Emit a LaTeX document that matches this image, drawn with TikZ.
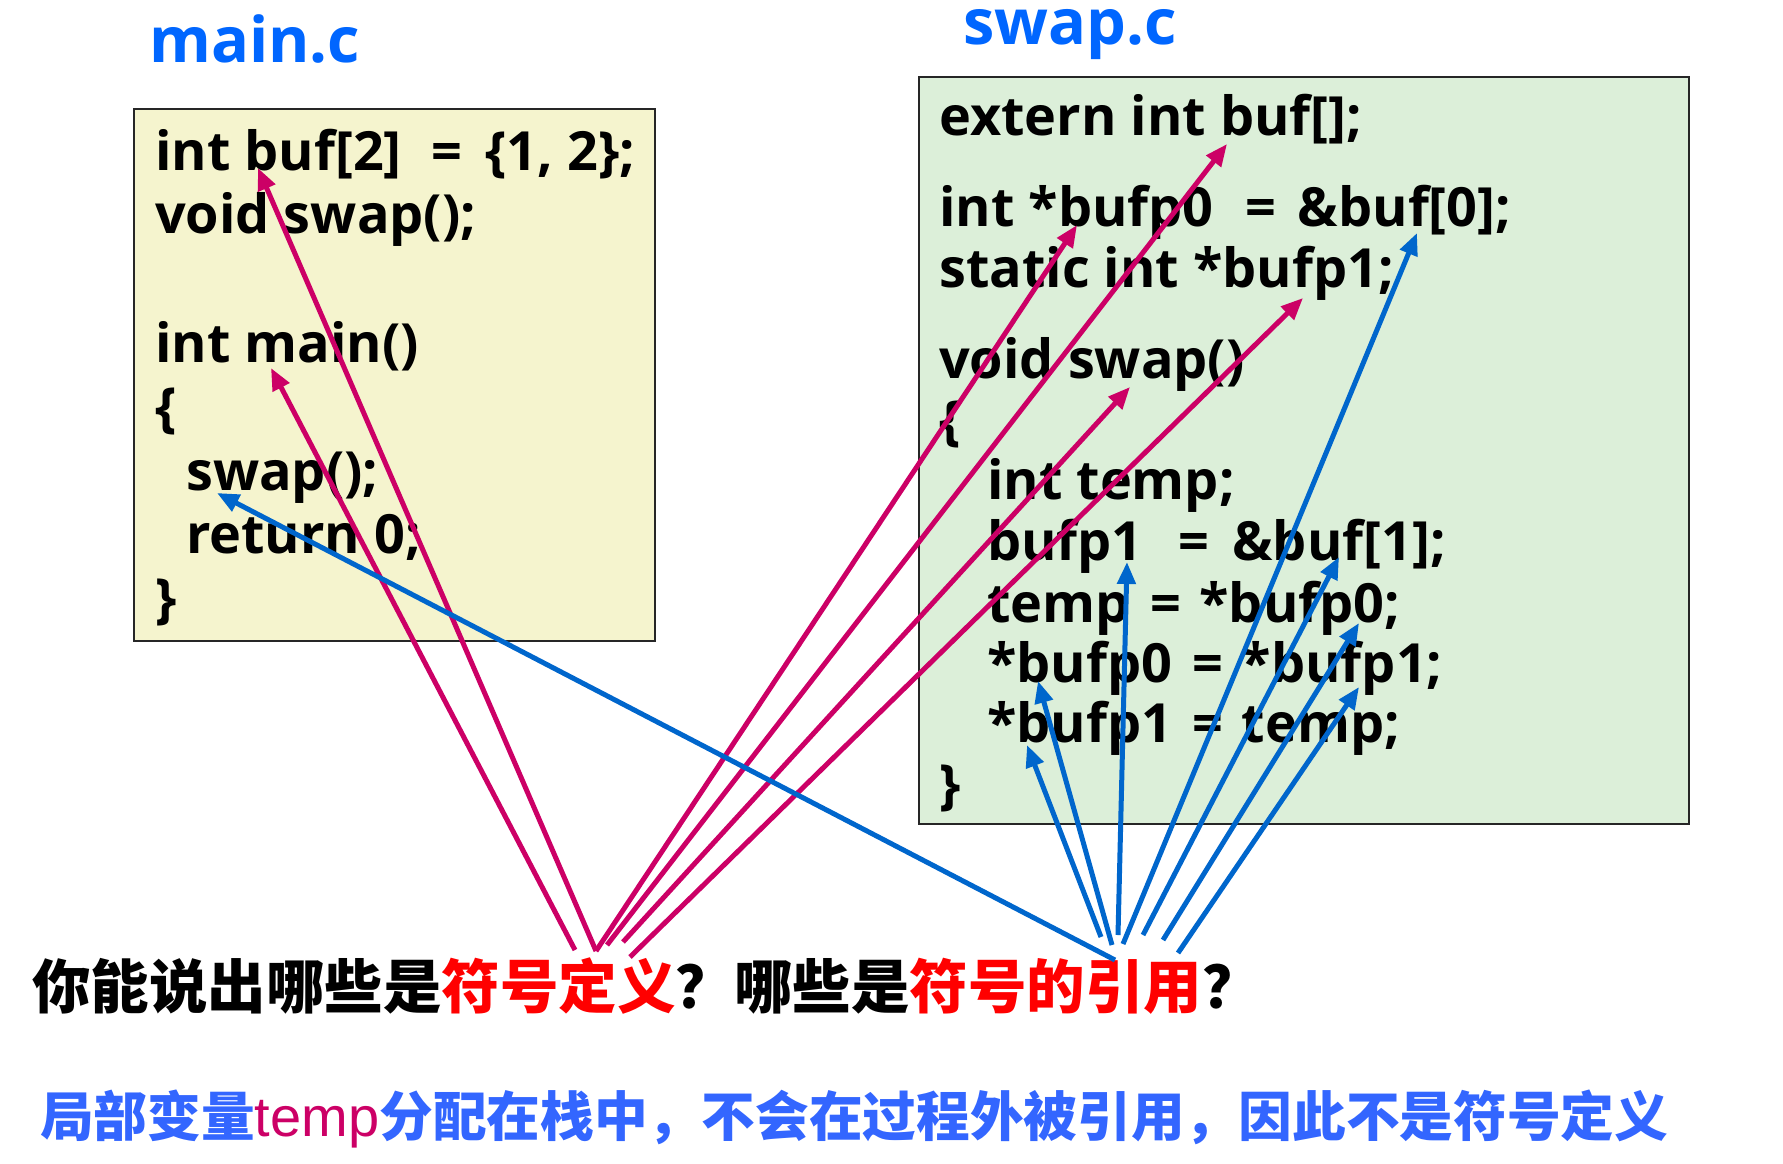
\documentclass[tikz,border=0pt]{standalone}
\usepackage{fontspec}
\setmainfont{Open Sans}
\newfontfamily\cjk{Noto Sans CJK SC}
\newfontfamily\arialf{Liberation Sans}
\usetikzlibrary{arrows.meta}
\definecolor{titleblue}{RGB}{0,102,255}
\definecolor{mag}{RGB}{204,0,102}
\definecolor{arrblue}{RGB}{0,102,204}
\definecolor{noteblue}{RGB}{51,102,255}
\definecolor{boxyellow}{RGB}{245,244,206}
\definecolor{boxgreen}{RGB}{220,239,217}
\definecolor{qred}{RGB}{255,0,0}
\newcommand{\eqsp}[2]{\ \hspace{#1em}=\ \hspace{#2em}}
\begin{document}
\begin{tikzpicture}[x=1pt,y=-1pt,
  codeline/.style={anchor=base west, inner sep=0pt, font=\fontsize{54}{54}\selectfont\bfseries},
  titletext/.style={anchor=base west, inner sep=0pt, text=titleblue, font=\fontsize{63}{63}\selectfont\bfseries},
  filebox/.style={draw=black!85, line width=1.5pt, anchor=north west, inner sep=0pt},
  magarrow/.style={draw=mag, line width=5pt, -{Triangle[length=22pt,width=18pt]}},
  bluearrow/.style={draw=arrblue, line width=5pt, -{Triangle[length=22pt,width=18pt]}},
  cjktext/.style={anchor=base west, inner sep=0pt}
]
\useasboundingbox (0,0) rectangle (1783,1163);

% titles
\node[titletext] (tmain) at (149,62) {main.c};
\node[titletext] (tswap) at (963,44) {swap.c};

% boxes
\node[filebox, fill=boxyellow, minimum width=521pt, minimum height=532pt] (leftbox) at (133,108) {};
\node[filebox, fill=boxgreen, minimum width=770pt, minimum height=747pt] (rightbox) at (918,76) {};

% main.c code
\node[codeline] (m1) at (155,170) {int buf[2]\eqsp{0.3}{0.16}\{1, 2\};};
\node[codeline] (m2) at (155,233) {void swap();};
\node[codeline] (m3) at (155,362) {int main()};
\node[codeline] (m4) at (155,426) {\{};
\node[codeline] (m5) at (186,490) {swap();};
\node[codeline] (m6) at (186,553) {return 0;};
\node[codeline] (m7) at (155,617) {\}};

% swap.c code
\node[codeline] (s1) at (939,135) {extern int buf[];};
\node[codeline] (s2) at (939,226) {int *bufp0\eqsp{0.33}{0.14}\&buf[0];};
\node[codeline] (s3) at (939,287) {static int *bufp1;};
\node[codeline] (s4) at (939,378) {void swap()};
\node[codeline] (s5) at (939,439) {\{};
\node[codeline] (s6) at (987,499) {int temp;};
\node[codeline] (s7) at (987,560) {bufp1\eqsp{0.4}{0.17}\&buf[1];};
\node[codeline] (s8) at (987,622) {temp\eqsp{0.12}{0.08}*bufp0;};
\node[codeline] (s9) at (987,682) {*bufp0\eqsp{0.12}{0.08}*bufp1;};
\node[codeline] (s10) at (987,742) {*bufp1\eqsp{0.12}{0.08}temp;};
\node[codeline] (s11) at (939,803) {\}};

% question and note
\node[cjktext, font=\cjk\bfseries\fontsize{58.5}{58.5}\selectfont] (question) at (32,1008)
  {你能说出哪些是\textcolor{qred}{符号定义}？哪些是\textcolor{qred}{符号的引用}？};
\node[cjktext, text=noteblue, font=\cjk\bfseries\fontsize{53.7}{53.7}\selectfont] (note) at (40,1136)
  {局部变量{\arialf\mdseries\fontsize{56}{56}\selectfont\textcolor{mag}{temp}}分配在栈中，不会在过程外被引用，因此不是符号定义};

% arrow end points
\coordinate (ms1) at (575,950);
\coordinate (ms2) at (596,951);
\coordinate (ms3) at (607,945);
\coordinate (ms4) at (623,942);
\coordinate (ms5) at (630,957);
\coordinate (mt-main) at (271,368);
\coordinate (mt-buf) at (258,168);
\coordinate (mt-bufp0) at (1077,225);
\coordinate (mt-extbuf) at (1227,144);
\coordinate (mt-swap) at (1130,387);
\coordinate (mt-bufp1) at (1303,298);

\coordinate (bs1) at (1101,937);
\coordinate (bs2) at (1112,945);
\coordinate (bs3) at (1118,935);
\coordinate (bs4) at (1123,944);
\coordinate (bs5) at (1143,935);
\coordinate (bs6) at (1163,940);
\coordinate (bs7) at (1178,953);
\coordinate (bs8) at (1115,960);
\coordinate (bt1) at (1027,745);
\coordinate (bt2) at (1038,681);
\coordinate (bt3) at (1127,562);
\coordinate (bt4) at (1417,233);
\coordinate (bt5) at (1339,557);
\coordinate (bt6) at (1359,623);
\coordinate (bt7) at (1359,687);
\coordinate (bt8) at (217,493);

% definition arrows
\draw[magarrow] (ms1) -- (mt-main);
\draw[magarrow] (ms2) -- (mt-buf);
\draw[magarrow] (ms2) -- (mt-bufp0);
\draw[magarrow] (ms3) -- (mt-extbuf);
\draw[magarrow] (ms4) -- (mt-swap);
\draw[magarrow] (ms5) -- (mt-bufp1);

% reference arrows
\draw[bluearrow] (bs1) -- (bt1);
\draw[bluearrow] (bs2) -- (bt2);
\draw[bluearrow] (bs3) -- (bt3);
\draw[bluearrow] (bs4) -- (bt4);
\draw[bluearrow] (bs5) -- (bt5);
\draw[bluearrow] (bs6) -- (bt6);
\draw[bluearrow] (bs7) -- (bt7);
\draw[bluearrow] (bs8) -- (bt8);
\end{tikzpicture}
\end{document}
